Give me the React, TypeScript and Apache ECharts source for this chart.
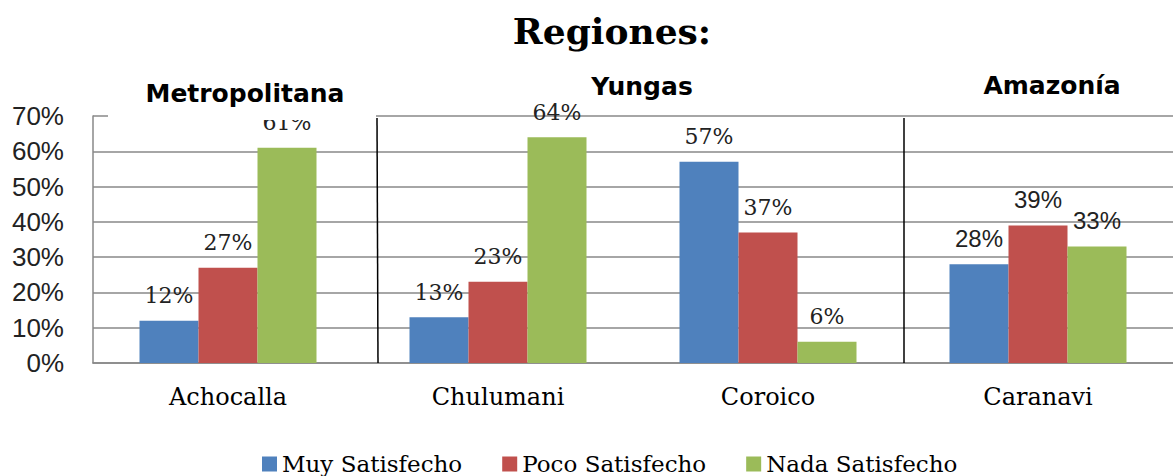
import React, { useEffect, useRef } from "react";
import * as echarts from "echarts";

const categories = ["Achocalla", "Chulumani", "Coroico", "Caranavi"];
const seriesNames = ["Muy Satisfecho", "Poco Satisfecho", "Nada Satisfecho"];
const muy = [12, 13, 57, 28];
const poco = [27, 23, 37, 39];
const nada = [61, 64, 6, 33];
const yTicks = { min: 0, max: 70, interval: 10 };
const regions = ["Metropolitana", "Yungas", "Amazonía"];
const colors = ["#4F81BD", "#C0504D", "#9BBB59"];

const SERIF = "'DejaVu Serif', 'Liberation Serif', serif";
const SANS = "'Liberation Sans', 'DejaVu Sans', sans-serif";
const BOLDSANS = "'DejaVu Sans', 'Liberation Sans', sans-serif";

export default function App() {
  const ref = useRef<HTMLDivElement>(null);
  useEffect(() => {
    if (!ref.current) return;
    const chart = echarts.init(ref.current, undefined, { renderer: "svg" });
    const values = [muy, poco, nada];
    const labelStyle = {
      show: true,
      position: "top",
      distance: 14,
      formatter: "{c}%",
      fontFamily: SERIF,
      fontSize: 22,
      color: "#222",
    };
    chart.setOption({
      animation: false,
      backgroundColor: "#fff",
      title: {
        text: "Regiones:",
        left: 607,
        textAlign: "center",
        top: 8,
        textStyle: { fontFamily: SERIF, fontWeight: "bold", fontSize: 36, color: "#000" },
      },
      legend: {
        data: seriesNames,
        left: 257,
        top: 447,
        icon: "rect",
        itemWidth: 15,
        itemHeight: 15,
        itemGap: 40,
        textStyle: { fontFamily: SERIF, fontSize: 23, color: "#000", lineHeight: 24 },
      },
      grid: { left: 93, right: -10, top: 116, bottom: 113, containLabel: false },
      xAxis: {
        type: "category",
        data: categories,
        axisTick: { show: false },
        axisLine: { show: true, lineStyle: { color: "#888", width: 1.5 } },
        axisLabel: { fontFamily: SERIF, fontSize: 24, color: "#000", margin: 22 },
      },
      yAxis: {
        type: "value",
        min: yTicks.min,
        max: yTicks.max,
        interval: yTicks.interval,
        axisLine: { show: true, lineStyle: { color: "#888", width: 1.5 } },
        axisTick: { show: false },
        splitLine: { lineStyle: { color: "#888", width: 1.5 } },
        axisLabel: { formatter: "{value}%", fontFamily: SANS, fontSize: 26, color: "#222", margin: 29 },
      },
      series: values.map((v, i) => ({
        name: seriesNames[i],
        type: "bar",
        data: v.map((val, j) =>
          j === 3 ? { value: val, label: { fontFamily: SANS, fontSize: 24 } } : val
        ),
        barWidth: 59,
        barGap: "0%",
        itemStyle: { color: colors[i] },
        label: labelStyle,
      })),
      graphic: [
        { type: "rect", z: 100, shape: { x: 108, y: 60, width: 268, height: 60 }, style: { fill: "#fff" } },
        { type: "line", z: 101, shape: { x1: 377, y1: 118, x2: 378, y2: 363 }, style: { stroke: "#000", lineWidth: 1.5 } },
        { type: "line", z: 101, shape: { x1: 904, y1: 118, x2: 904, y2: 363 }, style: { stroke: "#000", lineWidth: 1.5 } },
        { type: "text", z: 102, x: 245, y: 93, style: { text: regions[0], font: `bold 25px ${BOLDSANS}`, fill: "#000", align: "center", verticalAlign: "middle" } },
        { type: "text", z: 102, x: 642, y: 86, style: { text: regions[1], font: `bold 25px ${BOLDSANS}`, fill: "#000", align: "center", verticalAlign: "middle" } },
        { type: "text", z: 102, x: 1052, y: 85, style: { text: regions[2], font: `bold 25px ${BOLDSANS}`, fill: "#000", align: "center", verticalAlign: "middle" } },
      ],
    });
    return () => chart.dispose();
  }, []);
  return (
    <div
      ref={ref}
      style={{ position: "absolute", left: 0, top: 0, width: 1173, height: 476 }}
    />
  );
}
